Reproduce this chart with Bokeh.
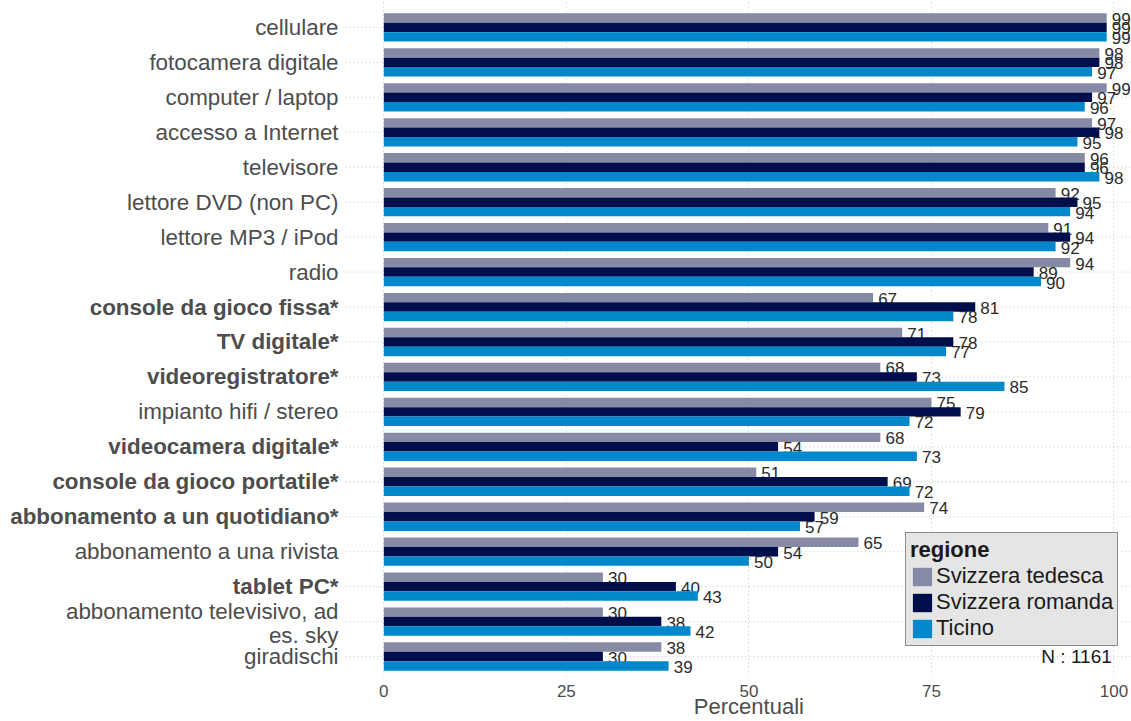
from bokeh.plotting import figure
from bokeh.models import (ColumnDataSource, Legend, LegendItem, FixedTicker, Range1d,
                          LinearAxis)
from bokeh.core.properties import value
from bokeh.embed import file_html
from bokeh.resources import INLINE

categories = ["cellulare", "fotocamera digitale", "computer / laptop", "accesso a Internet",
              "televisore", "lettore DVD (non PC)", "lettore MP3 / iPod", "radio",
              "console da gioco fissa*", "TV digitale*", "videoregistratore*",
              "impianto hifi / stereo", "videocamera digitale*", "console da gioco portatile*",
              "abbonamento a un quotidiano*", "abbonamento a una rivista", "tablet PC*",
              "abbonamento televisivo, ad\nes. sky", "giradischi"]
bold = [c.endswith("*") for c in categories]
tedesca = [99, 98, 99, 97, 96, 92, 91, 94, 67, 71, 68, 75, 68, 51, 74, 65, 30, 30, 38]
romanda = [99, 98, 97, 98, 96, 95, 94, 89, 81, 78, 73, 79, 54, 69, 59, 54, 40, 38, 30]
ticino = [99, 97, 96, 95, 98, 94, 92, 90, 78, 77, 85, 72, 73, 72, 57, 50, 43, 42, 39]
series_names = ["Svizzera tedesca", "Svizzera romanda", "Ticino"]
series_colors = ["#878aa5", "#000f4b", "#0087cc"]
x_ticks = [0, 25, 50, 75, 100]
x_title = "Percentuali"
legend_title = "regione"
n_text = "N : 1161"

FONT = "Liberation Sans"
n = len(categories)
ypos = [n - 1 - i for i in range(n)]

p = figure(width=1131, height=721, output_backend="svg", toolbar_location=None,
           x_range=Range1d(-52.5, 102.4), y_range=Range1d(-0.543, n - 1 + 0.771),
           min_border_left=0, min_border_right=0, min_border_top=0, min_border_bottom=43)
p.outline_line_color = None
p.background_fill_color = "white"
p.border_fill_color = "white"

# horizontal dotted grid lines (only across the panel, not under the labels)
p.segment(x0=-5.3, x1=102.4, y0=ypos, y1=ypos, line_color="#c8c8c8",
          line_dash="1 3", line_width=1)

bar_h = 0.27
offsets = [bar_h, 0.0, -bar_h]
renderers = []
for vals, off, col in zip([tedesca, romanda, ticino], offsets, series_colors):
    src = ColumnDataSource(dict(y=[y + off for y in ypos], right=vals,
                                lab=[str(v) for v in vals],
                                lx=[v + 0.7 for v in vals]))
    r = p.hbar(y="y", left=0, right="right", height=bar_h, source=src,
               fill_color=col, line_color=None)
    renderers.append(r)
    p.text(x="lx", y="y", text="lab", source=src, text_font=value(FONT),
           text_font_size="17px", text_color="#2b2b2b", text_align="left",
           text_baseline="middle", y_offset=1)

# category labels (text glyphs left of the panel)
single = [(c, y, b) for c, y, b in zip(categories, ypos, bold) if "\n" not in c]
for is_bold in (False, True):
    sel = [t for t in single if t[2] == is_bold]
    p.text(x=-6.2, y=[t[1] for t in sel], text=[t[0] for t in sel],
           text_align="right", text_baseline="middle", text_font=value(FONT),
           text_font_size="22.4px", text_font_style="bold" if is_bold else "normal",
           text_color="#4d4d4d")
for c, y in zip(categories, ypos):
    if "\n" in c:
        for ln, yo in zip(c.split("\n"), [-10, 14]):
            p.text(x=-6.2, y=y, text=[ln], y_offset=yo, text_align="right",
                   text_baseline="middle", text_font=value(FONT), text_font_size="22.4px",
                   text_color="#4d4d4d")

# axes
p.yaxis.visible = False
p.xaxis.ticker = FixedTicker(ticks=x_ticks)
p.xaxis.axis_line_color = None
p.xaxis.major_tick_line_color = None
p.xaxis.minor_tick_line_color = None
p.xaxis.major_label_text_font = FONT
p.xaxis.major_label_text_font_size = "17px"
p.xaxis.major_label_text_color = "#4d4d4d"
p.xaxis.major_label_standoff = 3

title_axis = LinearAxis(ticker=FixedTicker(ticks=[50]),
                        major_label_overrides={50: x_title})
title_axis.axis_line_color = None
title_axis.major_tick_line_color = None
title_axis.minor_tick_line_color = None
title_axis.major_label_text_font = FONT
title_axis.major_label_text_font_size = "22px"
title_axis.major_label_text_color = "#4d4d4d"
title_axis.major_label_standoff = -12
p.add_layout(title_axis, "below")

# grid
p.xgrid.ticker = FixedTicker(ticks=x_ticks)
p.xgrid.grid_line_color = "#c8c8c8"
p.xgrid.grid_line_dash = "1 3"
p.ygrid.visible = False

# N label
p.text(x=99.7, y=0, text=[n_text], text_align="right", text_baseline="middle",
       text_font=value(FONT), text_font_size="19px", text_color="#1a1a1a")

legend = Legend(items=[LegendItem(label=nm, renderers=[r]) for nm, r in zip(series_names, renderers)],
                location=(905, 29), title=legend_title)
legend.title_text_font = FONT
legend.title_text_font_size = "22px"
legend.title_text_font_style = "bold"
legend.title_text_color = "#1a1a1a"
legend.title_text_line_height = 1.0
legend.title_standoff = -8
legend.label_text_font = FONT
legend.label_text_font_size = "22px"
legend.label_text_line_height = 1.0
legend.label_text_color = "#1a1a1a"
legend.glyph_width = 24
legend.glyph_height = 23
legend.label_height = 23
legend.label_standoff = 2
legend.spacing = 0
legend.padding = 4
legend.margin = 0
legend.background_fill_color = "#e5e5e5"
legend.background_fill_alpha = 1
legend.border_line_color = "#333333"
legend.border_line_width = 1
p.add_layout(legend)

open("out.html", "w").write(file_html(p, INLINE))
